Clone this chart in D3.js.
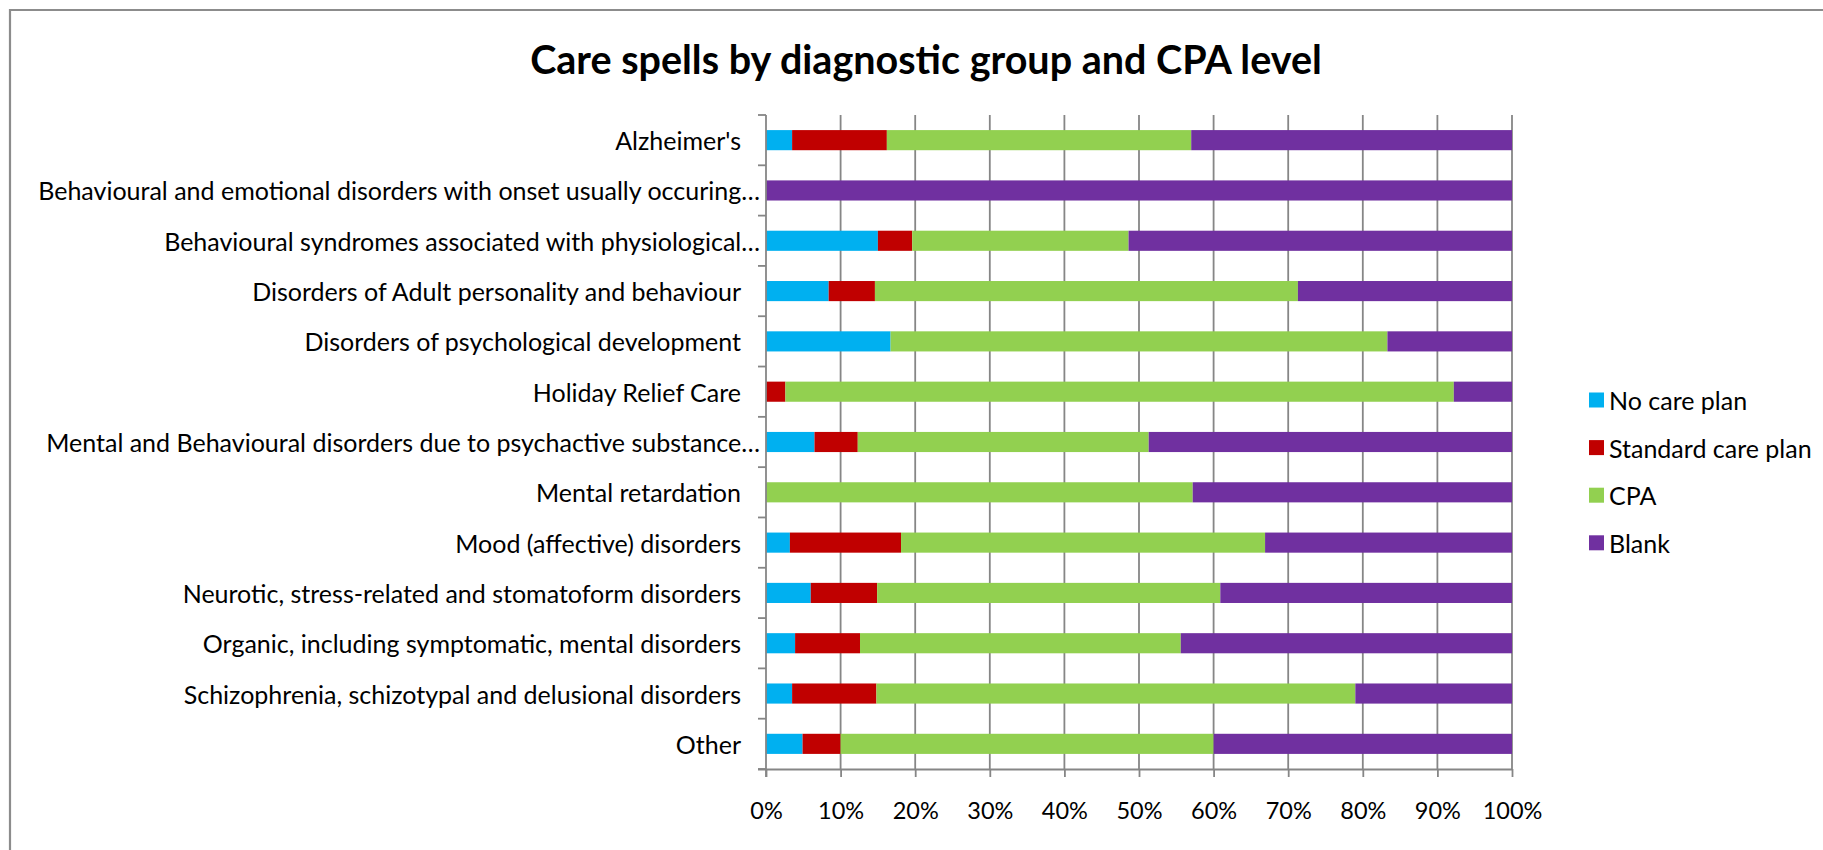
<!DOCTYPE html>
<html>
<head>
<meta charset="utf-8">
<script src="https://cdn.jsdelivr.net/npm/d3@7"></script>
<style>
  html, body { margin: 0; padding: 0; background: #fff; }
  svg { display: block; }
  text { font-family: "Lato", "Noto Sans", sans-serif; fill: #000; }
</style>
</head>
<body>
<svg id="chart" width="1823" height="850"></svg>
<script>
// Diagnostic groups, top to bottom
const categories = [
  "Alzheimer's",
  "Behavioural and emotional disorders with onset usually occuring…",
  "Behavioural syndromes associated with physiological…",
  "Disorders of Adult personality and behaviour",
  "Disorders of psychological development",
  "Holiday Relief Care",
  "Mental and Behavioural disorders due to psychactive substance…",
  "Mental retardation",
  "Mood (affective) disorders",
  "Neurotic, stress-related and stomatoform disorders",
  "Organic, including symptomatic, mental disorders",
  "Schizophrenia, schizotypal and delusional disorders",
  "Other"
];

// Share of care spells (%) in each CPA level
const noCarePlan       = [3.5, 0, 15.0, 8.4, 16.7, 0, 6.5, 0, 3.2, 6.0, 3.9, 3.5, 4.9];
const standardCarePlan = [12.7, 0, 4.6, 6.2, 0, 2.6, 5.8, 0, 14.9, 8.9, 8.7, 11.3, 5.1];
const cpa              = [40.8, 0, 29.0, 56.7, 66.6, 89.6, 39.0, 57.2, 48.8, 46.0, 43.0, 64.2, 50.0];
const blank            = [43.0, 100, 51.4, 28.7, 16.7, 7.8, 48.7, 42.8, 33.1, 39.1, 44.4, 21.0, 40.0];

const seriesNames = ["No care plan", "Standard care plan", "CPA", "Blank"];
const seriesColors = ["#00b0f0", "#c00000", "#92d050", "#7030a0"];
const tickValues = [0, 10, 20, 30, 40, 50, 60, 70, 80, 90, 100];

const svg = d3.select("#chart");

// chart frame
svg.append("path")
  .attr("d", "M10,860 V10 H1830")
  .attr("fill", "none")
  .attr("stroke", "#8c8c8c")
  .attr("stroke-width", 2.2);

// title
svg.append("text")
  .attr("x", 926).attr("y", 58)
  .attr("text-anchor", "middle")
  .attr("dominant-baseline", "central")
  .style("font-size", "39.5px")
  .style("font-weight", "bold")
  .text("Care spells by diagnostic group and CPA level");

const plot = { left: 766, right: 1512, top: 115, bottom: 769 };

const x = d3.scaleLinear().domain([0, 100]).range([plot.left, plot.right]);
const y = d3.scaleBand().domain(categories).range([plot.top, plot.bottom]).paddingInner(0.6).paddingOuter(0.3);

// stacked data
const rows = categories.map((c, i) => ({
  category: c,
  "No care plan": noCarePlan[i],
  "Standard care plan": standardCarePlan[i],
  "CPA": cpa[i],
  "Blank": blank[i]
}));
const stacked = d3.stack().keys(seriesNames)(rows);

// vertical gridlines
svg.append("g")
  .selectAll("line")
  .data(tickValues.slice(1))
  .join("line")
  .attr("x1", d => x(d)).attr("x2", d => x(d))
  .attr("y1", plot.top).attr("y2", plot.bottom)
  .attr("stroke", "#868686")
  .attr("stroke-width", 1.8);

// bars
svg.append("g")
  .selectAll("g")
  .data(stacked)
  .join("g")
  .attr("fill", (d, i) => seriesColors[i])
  .selectAll("rect")
  .data(d => d)
  .join("rect")
  .attr("x", d => x(d[0]))
  .attr("width", d => Math.max(0, x(d[1]) - x(d[0])))
  .attr("y", d => y(d.data.category))
  .attr("height", y.bandwidth());

// x axis
const xAxis = svg.append("g")
  .attr("transform", `translate(0,${plot.bottom})`)
  .call(d3.axisBottom(x).tickValues(tickValues).tickFormat(d => d + "%").tickSize(8).tickSizeOuter(0));
xAxis.select(".domain").attr("stroke", "#868686").attr("stroke-width", 1.8)
  .attr("d", `M${plot.left - 8},0.5H${plot.right}`);
xAxis.selectAll(".tick line").attr("stroke", "#868686").attr("stroke-width", 1.8);
xAxis.selectAll(".tick text")
  .attr("y", 41)
  .attr("dy", "0")
  .attr("dominant-baseline", "central")
  .style("font-size", "23.5px");

// y axis: line + ticks at band boundaries
const yAxis = svg.append("g");
yAxis.append("line")
  .attr("x1", plot.left).attr("x2", plot.left)
  .attr("y1", plot.top).attr("y2", plot.bottom + 8)
  .attr("stroke", "#868686").attr("stroke-width", 1.8);
const step = y.step();
yAxis.selectAll("line.tk")
  .data(d3.range(categories.length + 1))
  .join("line")
  .attr("class", "tk")
  .attr("x1", plot.left - 8).attr("x2", plot.left)
  .attr("y1", i => plot.top + i * step).attr("y2", i => plot.top + i * step)
  .attr("stroke", "#868686").attr("stroke-width", 1.8);

yAxis.selectAll("text")
  .data(categories)
  .join("text")
  .attr("x", d => d.endsWith("…") ? plot.left - 6 : plot.left - 25)
  .attr("y", d => y(d) + y.bandwidth() / 2)
  .attr("text-anchor", "end")
  .attr("dominant-baseline", "central")
  .style("font-size", "25px")
  .text(d => d);

// legend
const legend = svg.append("g").attr("transform", "translate(1589,400)");
const li = legend.selectAll("g")
  .data(seriesNames)
  .join("g")
  .attr("transform", (d, i) => `translate(0,${i * 47.6})`);
li.append("rect")
  .attr("x", 0).attr("y", -7.5)
  .attr("width", 15).attr("height", 15)
  .attr("fill", (d, i) => seriesColors[i]);
li.append("text")
  .attr("x", 20).attr("y", 0)
  .attr("dominant-baseline", "central")
  .style("font-size", "25px")
  .text(d => d);
</script>
</body>
</html>
